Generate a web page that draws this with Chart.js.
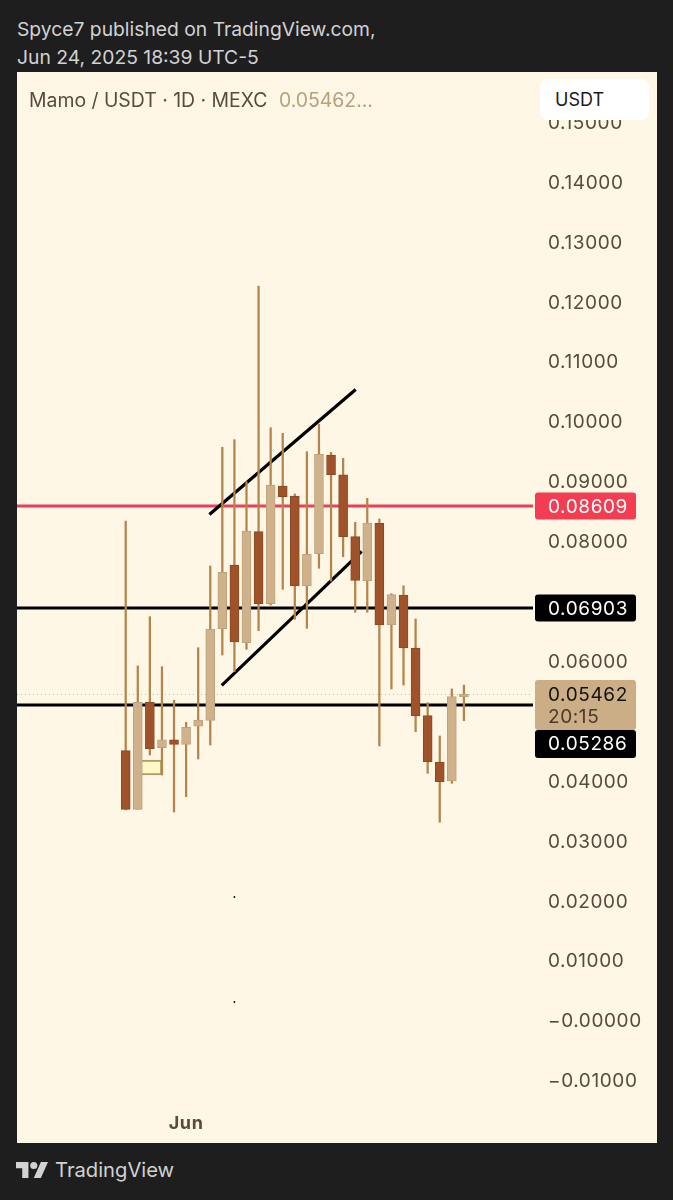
<!DOCTYPE html>
<html>
<head>
<meta charset="utf-8">
<title>Mamo / USDT</title>
<script src="https://cdn.jsdelivr.net/npm/chart.js@4"></script>
<style>
html, body { margin: 0; padding: 0; background: #1e1e1f; width: 673px; height: 1200px; overflow: hidden; font-family: Inter, sans-serif; }
.head { position: absolute; left: 17px; color: #d2d2d2; font-size: 19.3px; line-height: 28px; white-space: nowrap; }
#panel { position: absolute; left: 17px; top: 72px; width: 640px; height: 1071px; background: #fff7e6; overflow: hidden; }
#chart { position: absolute; left: 0; top: 0; }
#legend { position: absolute; left: 12px; top: 16px; font-size: 19.4px; line-height: 24px; color: #5a4a38; white-space: nowrap; }
#legend span { color: #b8a07c; margin-left: 6px; }
#unit { position: absolute; left: 523px; top: 7px; width: 109px; height: 41px; background: #fff; border-radius: 8px; font-size: 18px; line-height: 41px; color: #1a1a1a; text-indent: 15px; }
#brand { position: absolute; left: 55px; top: 1156px; font-size: 20.2px; line-height: 28px; color: #d2d2d2; }
#logo { position: absolute; left: 16px; top: 1162px; }
</style>
</head>
<body>
<div class="head" style="top:15px">Spyce7 published on TradingView.com,</div>
<div class="head" style="top:43px">Jun 24, 2025 18:39 UTC-5</div>
<div id="panel">
  <canvas id="chart" width="640" height="1071"></canvas>
  <div id="legend">Mamo / USDT · 1D · MEXC <span>0.05462...</span></div>
  <div id="unit">USDT</div>
</div>
<svg id="logo" width="32" height="16" viewBox="0 0 36 18"><path fill="#d2d2d2" d="M14 0H0v7h7v11h7V0zM28 18h-8L28 0h8l-8 18z"/><circle cx="20" cy="4" r="4" fill="#d2d2d2"/></svg>
<div id="brand">TradingView</div>

<script>
var opens  = [.04523,.03544,.05331,.04573,.04706,.04629,.04930,.05030,.06559,.07617,.06326,.08179,.06977,.08942,.08775,.07272,.07811,.09459,.09130,.08095,.07361,.08319,.06621,.07122,.06237,.05107,.04334,.04017,.05424];
var highs  = [.08357,.05937,.06760,.05925,.05364,.04997,.06242,.07606,.09588,.09715,.09013,.12280,.09915,.09821,.08808,.09514,.09972,.09504,.09404,.08336,.08736,.08391,.07144,.07277,.06721,.05324,.04768,.05553,.05619];
var lows   = [.03533,.03544,.04451,.04117,.03499,.03755,.04384,.04618,.06120,.05841,.06215,.06526,.06955,.07217,.06716,.06566,.07568,.07356,.07761,.06833,.06833,.04601,.05553,.05619,.04840,.04145,.03327,.03978,.05023];
var closes = [.03544,.05331,.04556,.04706,.04629,.04913,.05035,.06549,.07501,.06337,.08190,.06977,.08958,.08763,.07272,.07801,.09471,.09130,.08095,.07367,.08324,.06621,.07127,.06237,.05102,.04339,.04005,.05424,.05462];

var tickValues = [.15,.14,.13,.12,.11,.10,.09,.08,.06,.04,.03,.02,.01,0,-.01];
var tickLabels = ["0.15000","0.14000","0.13000","0.12000","0.11000","0.10000","0.09000","0.08000","0.06000","0.04000","0.03000","0.02000","0.01000","\u22120.00000","\u22120.01000"];
var monthTick = 5;
var monthLabel = "Jun";

var redLevel = 0.08609;
var upperLevel = 0.06903;
var lowerLevel = 0.05286;
var lastPrice = 0.05462;
var countdown = "20:15";

// channel drawn by hand on the chart, [index, price]
var channelTop = [[6.93, .08467], [19.04, .10553]];
var channelBottom = [[7.95, .05614], [19.54, .07850]];
var boxRange = [.04117, .04367];
var specks = [[9, .0208], [9, .00327]];

var xMin = -9, xMax = 33.72;

var DARK = "#a0532a", DARK_EDGE = "#8c4820", LIGHT = "#cfb28c", LIGHT_EDGE = "#bda27c", WICK = "#b5844a";

var wicks = [], bodies = [], fills = [], edges = [];
for (var i = 0; i < opens.length; i++) {
    wicks.push({x: i, y: [lows[i], highs[i]]});
    bodies.push({x: i, y: [opens[i], closes[i]]});
    var up = closes[i] >= opens[i];
    fills.push(up ? LIGHT : DARK);
    edges.push(up ? LIGHT_EDGE : DARK_EDGE);
}

function hline(v, color, width, dash, order) {
    return {
        type: "line",
        data: [{x: xMin, y: v}, {x: xMax, y: v}],
        borderColor: color, borderWidth: width, borderDash: dash || [],
        pointRadius: 0, order: order
    };
}
function segment(pts) {
    return {
        type: "line",
        data: pts.map(function(p) { return {x: p[0], y: p[1]}; }),
        borderColor: "#000", borderWidth: 3.2, pointRadius: 0, order: 5
    };
}

// tags on the price axis, drawn over the tick labels
var priceTags = {
    id: "priceTags",
    beforeDraw: function(chart) { chart.ctx.letterSpacing = "0.6px"; },
    afterDraw: function(chart) {
        var ctx = chart.ctx, y = chart.scales.y;
        var left = 518, w = 101, textX = 531;
        function tag(top, h, color) {
            ctx.fillStyle = color;
            ctx.beginPath();
            ctx.roundRect(left, top, w, h, 3);
            ctx.fill();
        }
        function label(s, yy, color) {
            ctx.fillStyle = color;
            ctx.fillText(s, textX, yy);
        }
        ctx.save();
        ctx.font = "19px Inter";
        ctx.textBaseline = "middle";
        ctx.textAlign = "left";
        var ry = y.getPixelForValue(redLevel);
        tag(ry - 13.5, 27, "#f23d52");
        label(redLevel.toFixed(5), ry + 1, "#fff");
        var uy = y.getPixelForValue(upperLevel);
        tag(uy - 13.5, 27, "#000");
        label(upperLevel.toFixed(5), uy + 1, "#fff");
        var py = y.getPixelForValue(lastPrice);
        tag(py - 14.5, 50, "#cbae85");
        label(lastPrice.toFixed(5), py + 1, "#111");
        label(countdown, py + 23, "#4a3a28");
        tag(py + 35.5, 28, "#000");
        label(lowerLevel.toFixed(5), py + 50, "#fff");
        ctx.restore();
    }
};

new Chart(document.getElementById("chart"), {
    type: "bar",
    data: {
        datasets: [
            {data: bodies, backgroundColor: fills, borderColor: edges, borderWidth: 1, borderSkipped: false, barThickness: 9, grouped: false, order: 1},
            {data: wicks, backgroundColor: WICK, borderWidth: 0, barThickness: 1.6, grouped: false, order: 2},
            {data: [{x: 2, y: boxRange}], backgroundColor: "#fff9c8", borderColor: "#b09a66", borderWidth: 2, borderSkipped: false, barThickness: 24, grouped: false, order: 3},
            segment(channelTop),
            segment(channelBottom),
            hline(redLevel, "#e8405a", 3, null, 6),
            hline(upperLevel, "#000", 3, null, 6),
            hline(lowerLevel, "#000", 3, null, 6),
            hline(lastPrice, "#cdb79a", 1, [1, 3], 7),
            {type: "scatter", data: specks.map(function(p) { return {x: p[0], y: p[1]}; }), pointRadius: 0.9, backgroundColor: "#000", borderWidth: 0, order: 4}
        ]
    },
    options: {
        responsive: false,
        animation: false,
        layout: {padding: 0, autoPadding: false},
        plugins: {legend: {display: false}, tooltip: {enabled: false}},
        scales: {
            x: {
                type: "linear",
                offset: false,
                min: xMin,
                max: xMax,
                grid: {display: false, drawTicks: false},
                border: {display: false},
                afterBuildTicks: function(axis) { axis.ticks = [{value: monthTick}]; },
                afterFit: function(axis) { axis.height = 40; axis.paddingLeft = 0; axis.paddingRight = 0; },
                ticks: {
                    autoSkip: false, maxRotation: 0, padding: 10, color: "#5a4a38",
                    font: {family: "Inter", size: 18, weight: "bold"},
                    callback: function() { return monthLabel; }
                }
            },
            y: {
                position: "right",
                min: -0.01359,
                max: 0.15853,
                grid: {display: false, drawTicks: false},
                border: {display: false},
                afterBuildTicks: function(axis) { axis.ticks = tickValues.map(function(v) { return {value: v}; }); },
                afterFit: function(axis) { axis.width = 124; axis.paddingTop = 0; axis.paddingBottom = 0; },
                ticks: {
                    autoSkip: false, padding: 15, color: "#5a4a38",
                    font: {family: "Inter", size: 19},
                    callback: function(v, idx) { return tickLabels[idx]; }
                }
            }
        }
    },
    plugins: [priceTags]
});
</script>
</body>
</html>
